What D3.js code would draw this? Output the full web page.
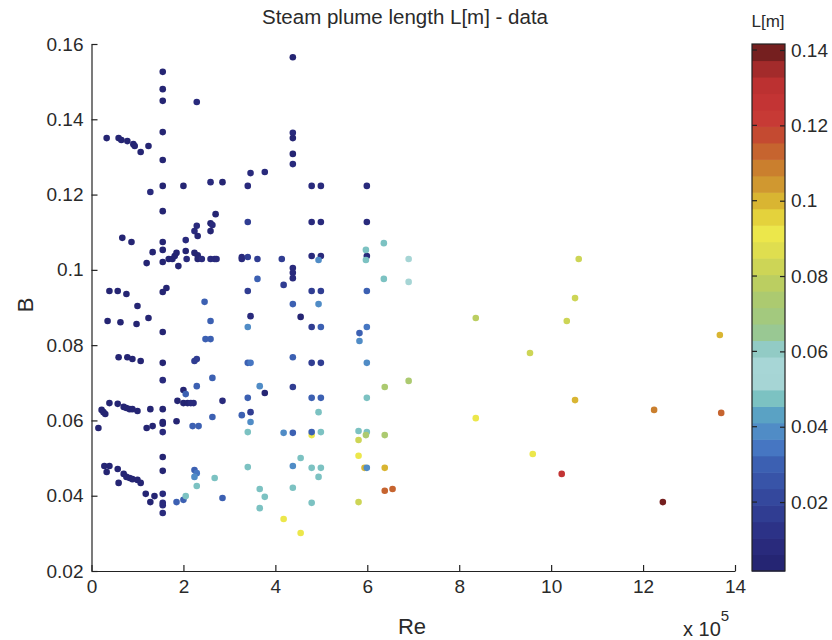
<!DOCTYPE html>
<html>
<head>
<meta charset="utf-8">
<script src="https://cdn.jsdelivr.net/npm/d3@7"></script>
<style>
  body { margin: 0; background: #fff; }
  text { font-family: "Liberation Sans", Arial, Helvetica, sans-serif; fill: #2a2a2a; }
</style>
</head>
<body>
<svg id="chart" width="832" height="640"></svg>
<script>
// Reynolds number (in units of 1e5)
const re = [
  1.55,1.55,1.55,2.29,1.55,0.33,0.59,0.65,0.78,0.91,0.94,1.07,1.24,1.55,1.28,1.55,2.00,2.59,2.85,3.40,3.46,
  4.38,4.38,4.38,4.38,4.38,3.77,4.79,4.99,5.99,
  1.55,2.70,2.29,2.24,2.31,2.59,2.63,2.59,3.40,0.67,0.87,1.55,2.05,1.33,1.55,1.20,1.55,1.68,1.76,1.81,1.85,1.89,2.07,2.05,2.24,2.31,2.31,2.40,2.59,2.68,2.72,3.27,3.27,3.40,3.61,3.61,
  0.39,0.57,0.76,1.55,1.63,1.00,3.40,2.46,0.35,0.63,0.98,1.24,2.59,3.46,3.40,1.55,2.48,2.59,0.59,0.78,0.89,1.07,1.55,2.24,2.29,3.40,3.46,
  4.79,4.99,5.99,4.14,4.79,4.99,4.94,5.99,5.97,5.97,6.36,6.90,4.38,4.38,4.38,4.18,6.36,6.90,4.79,4.99,5.99,4.38,4.94,4.55,4.79,4.99,5.99,5.83,5.83,4.38,4.79,4.99,5.99,
  3.66,3.77,4.38,6.38,6.90,4.79,4.99,5.99,4.94,4.18,4.38,4.79,4.79,4.99,5.81,5.99,5.81,5.97,6.38,5.81,4.55,4.38,4.79,4.99,5.94,5.99,6.38,4.94,3.66,4.38,6.38,6.55,3.77,3.66,4.79,5.81,4.18,4.55,
  0.15,0.22,0.26,0.30,0.39,0.57,0.70,0.76,0.83,0.89,1.00,1.28,1.55,1.55,1.20,1.33,1.55,1.55,1.55,0.28,
  0.39,0.33,0.57,0.70,0.76,0.83,0.89,1.00,1.07,0.59,1.55,1.55,1.18,1.28,1.37,1.55,1.55,1.55,1.55,1.85,
  1.87,2.00,2.05,2.00,2.09,2.16,2.22,2.29,2.20,2.33,2.63,2.63,2.85,1.85,2.00,2.05,2.24,2.29,2.24,2.29,
  2.68,2.85,3.27,3.46,3.46,3.40,3.40,3.40,
  10.60,10.52,8.36,10.34,13.67,9.54,10.52,12.24,13.70,8.36,9.60,10.23,12.43
];

// Parameter B
const bParam = [
  0.1526,0.1480,0.1449,0.1446,0.1366,0.1350,0.1350,0.1345,0.1342,0.1334,0.1329,0.1313,0.1329,0.1292,0.1207,0.1223,0.1223,0.1233,0.1233,0.1223,0.1257,
  0.1565,0.1364,0.1350,0.1308,0.1281,0.1260,0.1223,0.1223,0.1223,
  0.1156,0.1148,0.1117,0.1103,0.1090,0.1124,0.1119,0.1103,0.1127,0.1085,0.1074,0.1074,0.1079,0.1047,0.1053,0.1018,0.1021,0.1029,0.1029,0.1037,0.1045,0.1010,0.1029,0.1050,0.1045,0.1039,0.1029,0.1029,0.1029,0.1029,0.1029,0.1034,0.1029,0.1034,0.1029,0.0976,
  0.0944,0.0944,0.0936,0.0941,0.0952,0.0904,0.0944,0.0915,0.0864,0.0861,0.0856,0.0872,0.0864,0.0877,0.0848,0.0835,0.0816,0.0816,0.0768,0.0768,0.0763,0.0758,0.0753,0.0758,0.0763,0.0753,0.0753,
  0.1127,0.1127,0.1127,0.1029,0.1037,0.1037,0.1026,0.1037,0.1053,0.1026,0.1071,0.1029,0.1005,0.0992,0.0978,0.0960,0.0976,0.0968,0.0944,0.0944,0.0944,0.0909,0.0909,0.0875,0.0848,0.0848,0.0848,0.0832,0.0811,0.0768,0.0753,0.0753,0.0753,
  0.0691,0.0673,0.0689,0.0689,0.0705,0.0660,0.0660,0.0660,0.0622,0.0567,0.0567,0.0561,0.0569,0.0569,0.0572,0.0569,0.0548,0.0561,0.0561,0.0506,0.0500,0.0479,0.0474,0.0474,0.0474,0.0474,0.0474,0.0450,0.0418,0.0421,0.0413,0.0418,0.0397,0.0367,0.0381,0.0383,0.0338,0.0301,
  0.0580,0.0628,0.0622,0.0617,0.0646,0.0644,0.0636,0.0633,0.0630,0.0630,0.0625,0.0630,0.0630,0.0707,0.0580,0.0585,0.0596,0.0591,0.0569,0.0479,
  0.0479,0.0463,0.0471,0.0458,0.0450,0.0447,0.0444,0.0442,0.0434,0.0434,0.0503,0.0466,0.0405,0.0383,0.0399,0.0405,0.0381,0.0375,0.0354,0.0598,
  0.0652,0.0681,0.0670,0.0646,0.0646,0.0646,0.0646,0.0691,0.0585,0.0585,0.0713,0.0609,0.0652,0.0383,0.0389,0.0399,0.0468,0.0460,0.0450,0.0426,
  0.0447,0.0394,0.0614,0.0622,0.0596,0.0660,0.0569,0.0476,
  0.1029,0.0925,0.0872,0.0864,0.0827,0.0779,0.0654,0.0628,0.0620,0.0606,0.0511,0.0458,0.0383
];

// Steam plume length L [m]
const plumeLen = [
  0.005,0.006,0.006,0.007,0.005,0.006,0.006,0.005,0.006,0.006,0.005,0.006,0.005,0.006,0.007,0.006,0.006,0.007,0.006,0.008,0.007,
  0.006,0.007,0.006,0.006,0.007,0.008,0.007,0.007,0.008,
  0.006,0.006,0.007,0.007,0.006,0.006,0.007,0.006,0.016,
  0.005,0.006,0.006,0.007,0.006,0.006,0.006,0.006,0.006,0.006,0.006,0.006,0.006,0.007,0.006,0.006,0.006,0.006,0.007,0.007,0.007,0.007,0.008,0.008,
  0.017,0.016,0.030,
  0.005,0.005,0.006,0.006,0.006,0.006,0.016,0.030,0.005,0.006,0.006,0.006,0.031,0.008,0.040,0.006,0.030,0.031,0.005,0.006,0.006,0.006,0.006,0.016,0.017,0.032,0.033,
  0.007,0.007,0.008,0.017,0.007,0.007,0.040,0.008,0.048,0.047,0.049,0.050,
  0.007,0.007,0.007,0.018,0.048,0.050,
  0.016,0.017,0.032,0.030,0.039,0.006,
  0.017,0.031,0.033,0.032,0.040,0.030,
  0.017,0.018,0.041,
  0.040,0.006,0.018,0.073,0.074,0.031,0.032,0.048,0.047,0.040,
  0.031,0.091,0.030,0.047,0.048,0.048,0.081,0.074,0.073,0.092,
  0.047,0.041,0.047,0.048,0.100,0.040,0.101,0.047,0.046,0.047,
  0.113,0.114,0.046,0.047,0.047,0.082,0.090,0.091,
  0.005,0.005,0.005,0.005,0.006,0.006,0.006,0.006,0.006,0.006,
  0.006,0.006,0.006,0.007,0.006,0.006,0.006,0.006,0.007,0.005,
  0.005,0.005,0.005,0.006,0.006,0.006,0.006,0.006,0.006,0.005,
  0.006,0.006,0.006,0.006,0.006,0.007,0.007,0.007,0.008,0.006,
  0.006,0.006,0.030,0.006,0.006,0.007,0.007,0.031,0.030,0.031,
  0.032,0.031,0.008,0.030,0.031,0.046,0.032,0.033,0.040,0.046,
  0.047,0.032,0.031,0.017,0.040,0.032,0.046,0.047,
  0.082,0.082,0.077,0.081,0.101,0.083,0.100,0.109,0.114,0.091,0.092,0.125,0.140
];

// Axis ticks
const xTicks = [0, 2, 4, 6, 8, 10, 12, 14];
const yTicks = [0.02, 0.04, 0.06, 0.08, 0.1, 0.12, 0.14, 0.16];
const cbTicks = [0.02, 0.04, 0.06, 0.08, 0.1, 0.12, 0.14];

// Colormap for L
const lRange = [0.0017, 0.1416];
const nBands = 32;
const cmapStops  = [0.000, 0.010, 0.020, 0.030, 0.036, 0.043, 0.0476, 0.052, 0.058, 0.0615, 0.066, 0.074, 0.080, 0.086, 0.092, 0.098, 0.103, 0.110, 0.117, 0.123, 0.133, 0.142];
const cmapColors = ["#22206a","#2a2c80","#33449a","#3c5fb2","#4a7ec8","#58a0c4","#7cc2c2","#a6d5d5","#a8d6d6","#8cc8c0","#9cc888","#acca70","#c2d05a","#dcdc50","#eee84a","#dec434","#d2a030","#c8782e","#c44c30","#c83636","#b83030","#5a1818"];

const svg = d3.select("#chart");

const plot = { left: 91.5, right: 735, top: 44, bottom: 571 };
const x = d3.scaleLinear().domain([0, 14]).range([plot.left, plot.right]);
const y = d3.scaleLinear().domain([0.02, 0.16]).range([plot.bottom, plot.top]);

const cmap = d3.scaleLinear().domain(cmapStops).range(cmapColors).clamp(true);
const bandW = (lRange[1] - lRange[0]) / nBands;
function bandIndex(v) {
  return Math.max(0, Math.min(nBands - 1, Math.floor((v - lRange[0]) / bandW)));
}
function bandColor(v) {
  return cmap(lRange[0] + (bandIndex(v) + 0.5) * bandW);
}

const fmt = d => String(+d.toFixed(2));

// scatter points
svg.append("g")
  .selectAll("circle")
  .data(d3.range(re.length))
  .join("circle")
  .attr("cx", i => x(re[i]))
  .attr("cy", i => y(bParam[i]))
  .attr("r", 3.3)
  .attr("fill", i => bandColor(plumeLen[i]));

// axes
function styleAxis(g, fs) {
  g.select(".domain").attr("stroke", "#222").attr("stroke-width", 1.2);
  g.selectAll(".tick line").attr("stroke", "#222").attr("stroke-width", 1.2);
  g.selectAll(".tick text").attr("font-size", fs).attr("fill", "#2a2a2a")
    .style("font-family", '"Liberation Sans", Arial, sans-serif');
}

svg.append("g")
  .attr("transform", `translate(${plot.left},0)`)
  .call(d3.axisLeft(y).tickValues(yTicks).tickSize(-6).tickSizeOuter(0).tickPadding(8).tickFormat(fmt))
  .call(g => styleAxis(g, 19));

svg.append("g")
  .attr("transform", `translate(0,${plot.bottom})`)
  .call(d3.axisBottom(x).tickValues(xTicks).tickSize(-6).tickSizeOuter(0).tickPadding(9).tickFormat(d => d))
  .call(g => styleAxis(g, 19));

// colorbar
const cb = { x: 752, w: 33 };
const cbY = d3.scaleLinear().domain(lRange).range([plot.bottom, plot.top]);
const cbG = svg.append("g");
cbG.selectAll("rect.band")
  .data(d3.range(nBands))
  .join("rect")
  .attr("class", "band")
  .attr("x", cb.x)
  .attr("width", cb.w)
  .attr("y", i => cbY(lRange[0] + (i + 1) * bandW))
  .attr("height", i => cbY(lRange[0] + i * bandW) - cbY(lRange[0] + (i + 1) * bandW) + 0.6)
  .attr("fill", i => cmap(lRange[0] + (i + 0.5) * bandW));
cbG.append("rect")
  .attr("x", cb.x).attr("y", plot.top)
  .attr("width", cb.w).attr("height", plot.bottom - plot.top)
  .attr("fill", "none").attr("stroke", "#222").attr("stroke-width", 1.2);
cbG.selectAll("line.lt")
  .data(cbTicks)
  .join("line")
  .attr("class", "lt")
  .attr("x1", cb.x).attr("x2", cb.x + 5)
  .attr("y1", d => cbY(d)).attr("y2", d => cbY(d))
  .attr("stroke", "#222").attr("stroke-width", 1.2);
svg.append("g")
  .attr("transform", `translate(${cb.x + cb.w},0)`)
  .call(d3.axisRight(cbY).tickValues(cbTicks).tickSize(-5).tickSizeOuter(0).tickPadding(6).tickFormat(fmt))
  .call(g => styleAxis(g, 19))
  .call(g => g.select(".domain").remove());

// labels
svg.append("text")
  .attr("x", 405).attr("y", 24)
  .attr("text-anchor", "middle").attr("font-size", 20.5)
  .text("Steam plume length L[m] - data");

svg.append("text")
  .attr("x", 768).attr("y", 27)
  .attr("text-anchor", "middle").attr("font-size", 17)
  .text("L[m]");

svg.append("text")
  .attr("x", 412).attr("y", 634)
  .attr("text-anchor", "middle").attr("font-size", 22)
  .text("Re");

svg.append("text")
  .attr("transform", "translate(33,305) rotate(-90)")
  .attr("text-anchor", "middle").attr("font-size", 22)
  .text("B");

const expo = svg.append("text")
  .attr("x", 683).attr("y", 636)
  .attr("font-size", 20);
expo.append("tspan").text("x 10");
expo.append("tspan").attr("dy", -15).attr("font-size", 15).text("5");
</script>
</body>
</html>
